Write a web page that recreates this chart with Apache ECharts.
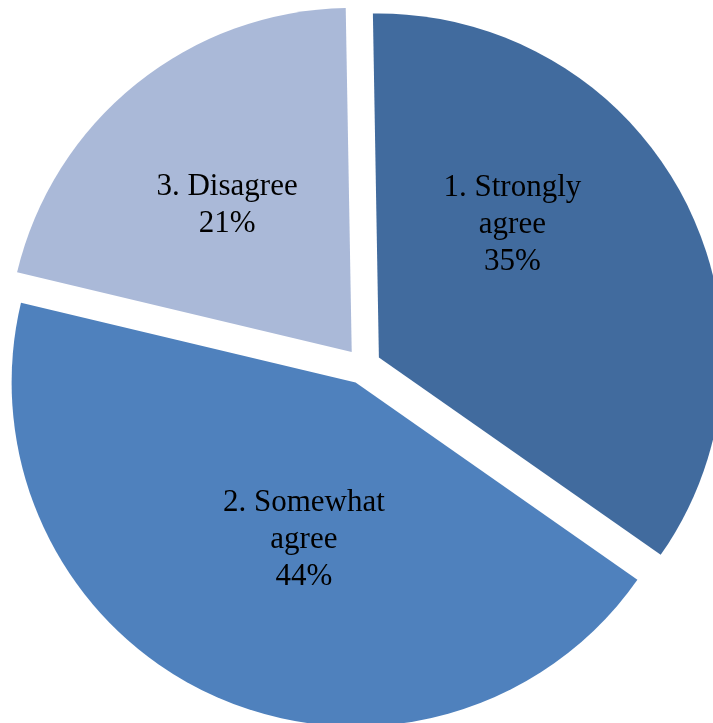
<!DOCTYPE html>
<html>
<head>
<meta charset="utf-8">
<script src="https://cdn.jsdelivr.net/npm/echarts@6/dist/echarts.min.js"></script>
<style>
  html, body { margin: 0; padding: 0; background: #fff; }
  #chart { width: 713px; height: 723px; }
</style>
</head>
<body>
<div id="chart"></div>
<script>
const categories = ['1. Strongly\nagree', '2. Somewhat\nagree', '3. Disagree']
const shares     = [35, 44, 21]
const colors     = ['#416B9E', '#4F81BD', '#AAB9D8']
// nudges so labels sit where the original put them
const labelNudge = [[-21, -51], [20, -2], [-15, -10]]

const chart = echarts.init(document.getElementById('chart'))

chart.setOption({
  backgroundColor: '#fff',
  animation: false,
  series: [{
    type: 'pie',
    center: [363, 366],
    radius: 344,
    startAngle: 91,
    clockwise: true,
    selectedMode: 'multiple',
    selectedOffset: 18,
    emphasis: { disabled: true },
    label: {
      show: true,
      position: 'inside',
      formatter: '{b}\n{c}%',
      color: '#000',
      fontFamily: '"Liberation Serif", "Times New Roman", serif',
      fontSize: 31,
      lineHeight: 37,
      align: 'center'
    },
    labelLine: { show: false },
    labelLayout: p => ({ dx: labelNudge[p.dataIndex][0], dy: labelNudge[p.dataIndex][1] }),
    data: categories.map((name, i) => ({
      name,
      value: shares[i],
      selected: true,
      itemStyle: { color: colors[i], borderWidth: 0 }
    }))
  }]
})
</script>
</body>
</html>
